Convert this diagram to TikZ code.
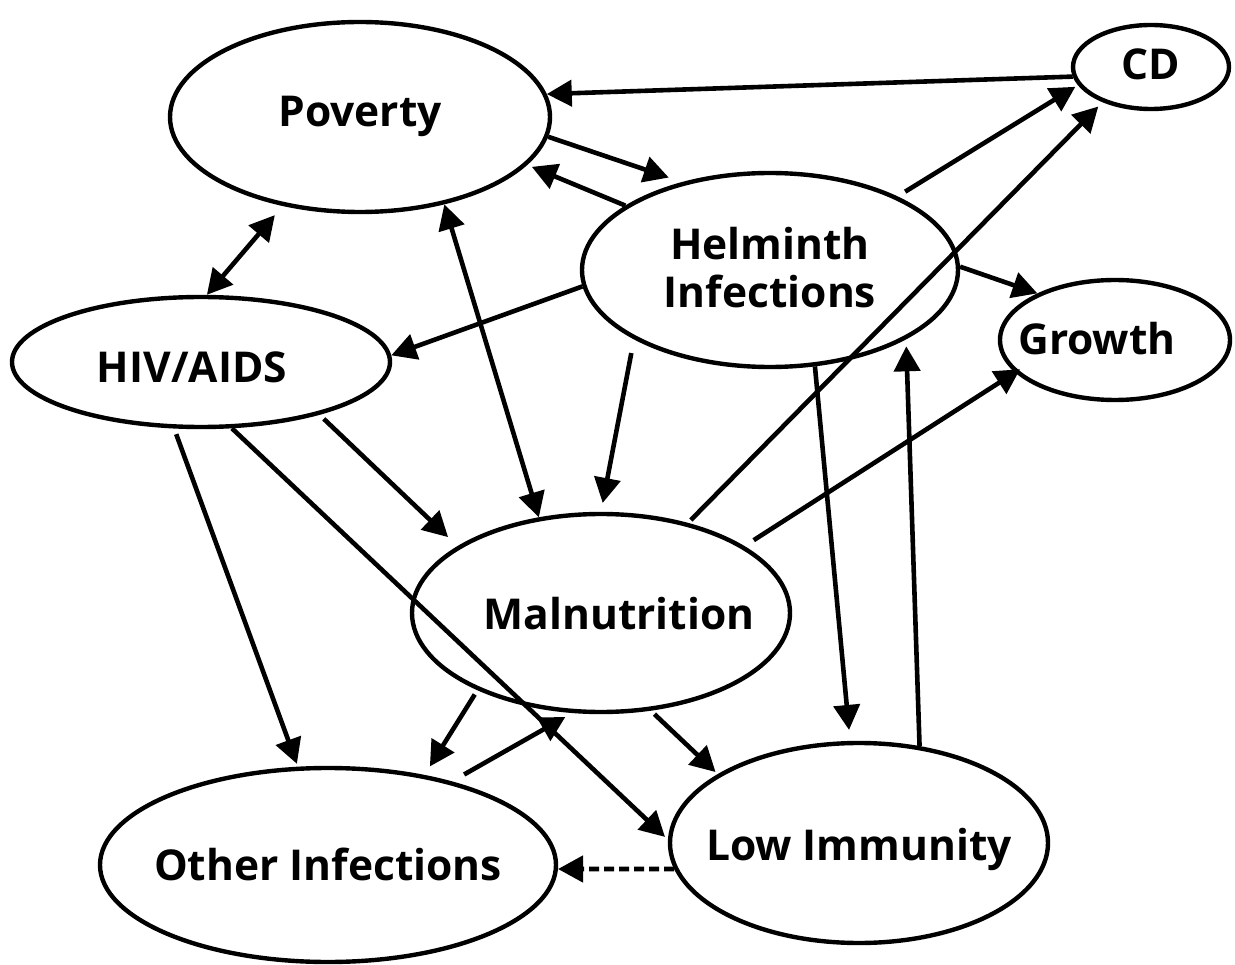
\documentclass[tikz,border=0pt]{standalone}
\usepackage{fontspec}
\setmainfont{Open Sans}
\usetikzlibrary{arrows.meta,shapes.geometric}
\newcommand{\txt}[3]{\raisebox{-#2}[0pt][0pt]{\makebox[0pt]{\hspace{#1}#3}}}
\begin{document}
\begin{tikzpicture}[x=1pt,y=-1pt,
  ell/.style={draw, ellipse, line width=4.4pt, inner sep=0pt,
    font=\fontsize{42.5}{48}\selectfont\bfseries},
  arr/.style={line width=4.6pt, -{Triangle[length=25pt,width=26pt]}},
  arrtwo/.style={line width=4.6pt, {Triangle[length=25pt,width=26pt]}-{Triangle[length=25pt,width=26pt]}}]
\useasboundingbox (0,0) rectangle (1235,965);
% nodes
\node[ell, minimum width=380pt, minimum height=190pt] (pov) at (360,117) {\txt{0pt}{10pt}{Poverty}};
\node[ell, minimum width=156pt, minimum height=84pt] (cd) at (1151,67) {\txt{0pt}{13pt}{CD}};
\node[ell, minimum width=376pt, minimum height=194pt] (hel) at (770,270)
  {\raisebox{10pt}[0pt][0pt]{\makebox[0pt]{\begin{tabular}[t]{@{}c@{}}Helminth\\Infections\end{tabular}}}};
\node[ell, minimum width=230pt, minimum height=120pt] (gro) at (1115,340) {\txt{-36pt}{15pt}{Growth}};
\node[ell, minimum width=378pt, minimum height=130pt] (hiv) at (201,362) {\txt{-18pt}{21pt}{HIV/AIDS}};
\node[ell, minimum width=378pt, minimum height=198pt] (mal) at (601,613) {\txt{36pt}{16pt}{Malnutrition}};
\node[ell, minimum width=378pt, minimum height=200pt] (low) at (859,843) {\txt{0pt}{17pt}{Low Immunity}};
\node[ell, minimum width=456pt, minimum height=194pt] (oth) at (328,865) {\txt{0pt}{15pt}{Other Infections}};
% connectors
\draw[arr] (cd.187) -- (pov.7);
\draw[arr, shorten >=14pt] (pov.-6) -- (hel.135);
\draw[arr, shorten >=5pt] (hel.156) -- (pov.-16);
\draw[arr, shorten <=9pt, shorten >=3pt] (hel.30) -- (cd.194);
\draw[arr, shorten <=4pt, shorten >=6pt] (mal.46) -- (cd.216);
\draw[arr] (hel.1) -- (gro.149);
\draw[arr, shorten <=11pt, shorten >=-6pt] (mal.25) -- (gro.198);
\draw[arrtwo, shorten >=12pt] (hiv.85) -- (pov.229);
\draw[arrtwo] (pov.-46) -- (mal.123);
\draw[arr] (hel.185) -- (hiv.2);
\draw[arr, shorten <=14pt, shorten >=9pt] (hel.207) -- (mal.90);
\draw[arr, shorten >=11pt] (hel.-65) -- (low.95);
\draw[arr, shorten >=7pt] (low.58) -- (hel.-27);
\draw[arr, shorten <=6pt, shorten >=13pt] (hiv.-24) -- (mal.155);
\draw[arr, shorten <=6pt, shorten >=3pt] (hiv.248) -- (oth.107);
\draw[arr, shorten >=4pt] (hiv.-65) -- (low.179);
\draw[arr, shorten <=5pt, shorten >=10pt] (mal.212) -- (oth.43);
\draw[arr, shorten <=14pt, shorten >=8pt] (oth.34) -- (mal.254);
\draw[arr, shorten <=5pt, shorten >=3pt] (mal.-63) -- (low.154);
\draw[arr, dash pattern=on 10pt off 5pt] (low.188) -- (oth.-1);
\end{tikzpicture}
\end{document}
